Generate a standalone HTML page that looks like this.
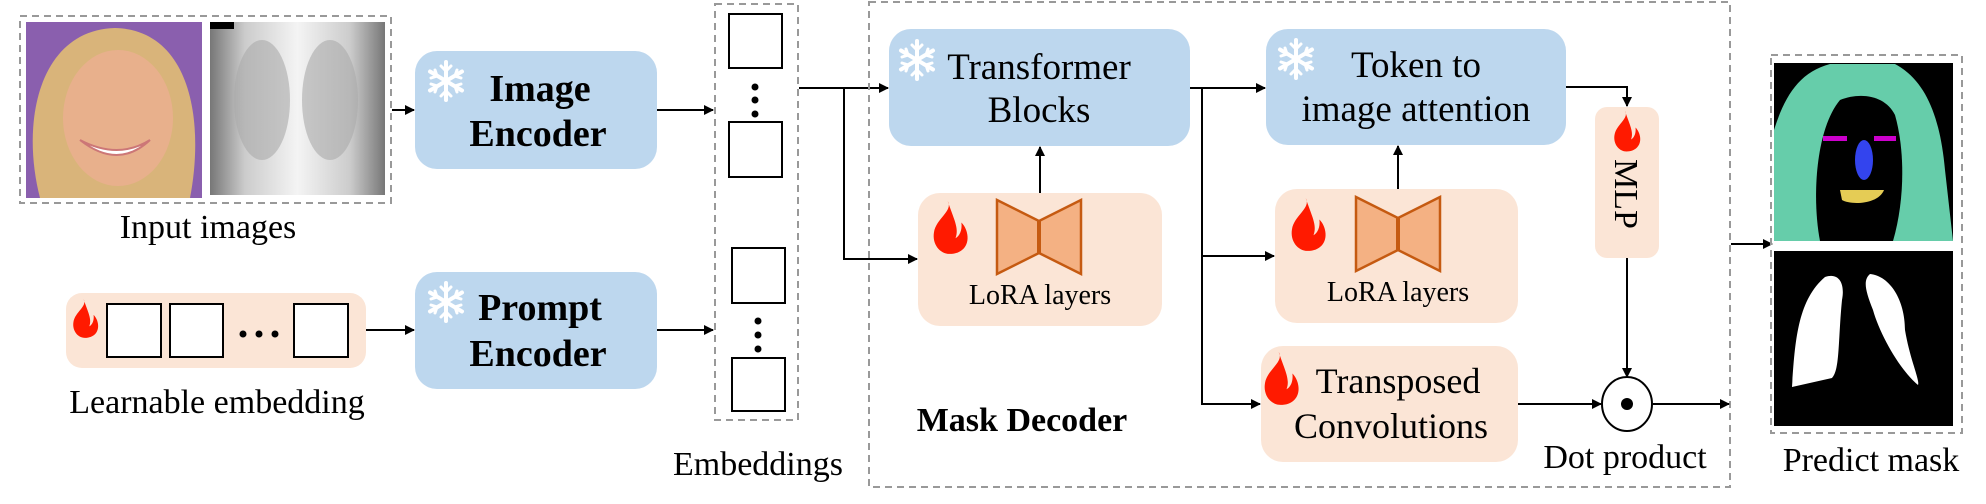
<!DOCTYPE html>
<html><head><meta charset="utf-8"><style>
html,body{margin:0;padding:0;background:#fff}
svg{display:block}
svg text{font-family:"Liberation Serif","Tinos","DejaVu Serif Condensed","DejaVu Serif",serif;fill:#000;font-weight:400}
svg text.b{font-weight:700}
</style></head><body>
<svg width="1986" height="504" viewBox="0 0 1986 504" xmlns="http://www.w3.org/2000/svg">
<defs>
<marker id="ar" markerWidth="10" markerHeight="10" refX="9" refY="5" orient="auto" markerUnits="userSpaceOnUse">
<path d="M0,0 L10,5 L0,10 z" fill="#000"/></marker>
<g id="flame"><path d="M16,0 C22,10 4,18 2,32 C0,44 8,54 18,54 C30,54 38,46 36,34 C35,28 32,24 30,22 C31,30 28,36 24,38 C28,28 22,18 16,0 z" fill="#ff1a00"/></g>
<g id="snow" stroke="#fff" stroke-width="4" stroke-linecap="round" fill="none">
<line x1="0" y1="-19" x2="0" y2="19"/><line x1="-16" y1="-9.5" x2="16" y2="9.5"/><line x1="-16" y1="9.5" x2="16" y2="-9.5"/>
<path d="M-5,-15 L0,-10 L5,-15 M-5,15 L0,10 L5,15 M-15,-3 L-9,-5 L-11,-11 M15,3 L9,5 L11,11 M-15,3 L-9,5 L-11,11 M15,-3 L9,-5 L11,-11" stroke-width="3"/>
</g>
<g id="bow"><path d="M0,0 L42,21 L42,53 L0,74 z M84,0 L42,21 L42,53 L84,74 z" fill="#f4b183" stroke="#c55a11" stroke-width="2.5" stroke-linejoin="miter"/><line x1="42" y1="21" x2="42" y2="53" stroke="#c55a11" stroke-width="4"/></g>
<linearGradient id="xr" x1="0" x2="1"><stop offset="0" stop-color="#777"/><stop offset="0.2" stop-color="#ccc"/><stop offset="0.5" stop-color="#f4f4f4"/><stop offset="0.8" stop-color="#ccc"/><stop offset="1" stop-color="#777"/></linearGradient>
</defs>

<rect x="20" y="16" width="371" height="187" fill="none" stroke="#999" stroke-width="2" stroke-dasharray="7,5"/>
<rect x="26" y="22" width="176" height="176" fill="#8a5fae"/>
<path d="M40,198 C20,120 40,30 115,28 C190,30 205,120 190,198 z" fill="#d9b47a"/>
<ellipse cx="118" cy="118" rx="55" ry="68" fill="#e8b08c"/>
<path d="M80,140 Q118,170 150,140 Q118,160 80,140 z" fill="#fff" stroke="#c77" stroke-width="2"/>
<rect x="210" y="22" width="175" height="173" fill="url(#xr)"/>
<ellipse cx="262" cy="100" rx="28" ry="60" fill="#aaa" opacity="0.6"/>
<ellipse cx="330" cy="100" rx="28" ry="60" fill="#aaa" opacity="0.6"/>
<rect x="210" y="22" width="24" height="7" fill="#000"/>
<text x="208" y="238" font-size="34" text-anchor="middle">Input images</text>

<line x1="392" y1="110" x2="414" y2="110" stroke="#000" stroke-width="2" marker-end="url(#ar)"/>
<rect x="415" y="51" width="242" height="118" rx="22" fill="#bdd7ee"/>
<use href="#snow" x="446" y="81"/>
<text class="b" x="540" y="101" font-size="38" text-anchor="middle">Image</text>
<text class="b" x="538" y="146" font-size="38" text-anchor="middle">Encoder</text>
<line x1="657" y1="110" x2="713" y2="110" stroke="#000" stroke-width="2" marker-end="url(#ar)"/>

<rect x="66" y="293" width="300" height="75" rx="16" fill="#fbe5d6"/>
<use href="#flame" transform="translate(72,299) scale(0.72)"/>
<rect x="107" y="304" width="54" height="53" fill="#fff" stroke="#000" stroke-width="2"/>
<rect x="170" y="304" width="53" height="53" fill="#fff" stroke="#000" stroke-width="2"/>
<rect x="294" y="304" width="54" height="53" fill="#fff" stroke="#000" stroke-width="2"/>
<circle cx="243" cy="334" r="3.5"/><circle cx="259" cy="334" r="3.5"/><circle cx="275" cy="334" r="3.5"/>
<text x="217" y="413" font-size="34" text-anchor="middle">Learnable embedding</text>
<line x1="366" y1="330" x2="414" y2="330" stroke="#000" stroke-width="2" marker-end="url(#ar)"/>

<rect x="415" y="272" width="242" height="117" rx="22" fill="#bdd7ee"/>
<use href="#snow" x="446" y="302"/>
<text class="b" x="540" y="320" font-size="38" text-anchor="middle">Prompt</text>
<text class="b" x="538" y="366" font-size="38" text-anchor="middle">Encoder</text>
<line x1="657" y1="330" x2="713" y2="330" stroke="#000" stroke-width="2" marker-end="url(#ar)"/>

<rect x="715" y="4" width="83" height="416" fill="none" stroke="#999" stroke-width="2" stroke-dasharray="7,5"/>
<rect x="729" y="14" width="53" height="54" fill="#fff" stroke="#000" stroke-width="2"/>
<rect x="729" y="122" width="53" height="55" fill="#fff" stroke="#000" stroke-width="2"/>
<circle cx="755" cy="87" r="3.5"/><circle cx="755" cy="100" r="3.5"/><circle cx="755" cy="114" r="3.5"/>
<rect x="732" y="248" width="53" height="55" fill="#fff" stroke="#000" stroke-width="2"/>
<rect x="732" y="358" width="53" height="53" fill="#fff" stroke="#000" stroke-width="2"/>
<circle cx="758" cy="321" r="3.5"/><circle cx="758" cy="335" r="3.5"/><circle cx="758" cy="349" r="3.5"/>
<text x="758" y="475" font-size="34" text-anchor="middle">Embeddings</text>

<polyline points="799,88 888,88" fill="none" stroke="#000" stroke-width="2" marker-end="url(#ar)"/>
<polyline points="844,88 844,259 917,259" fill="none" stroke="#000" stroke-width="2" marker-end="url(#ar)"/>

<rect x="869" y="2" width="861" height="485" fill="none" stroke="#999" stroke-width="2" stroke-dasharray="7,5"/>
<rect x="889" y="29" width="301" height="117" rx="22" fill="#bdd7ee"/>
<use href="#snow" x="917" y="60"/>
<text x="1039" y="79" font-size="37" text-anchor="middle">Transformer</text>
<text x="1039" y="122" font-size="37" text-anchor="middle">Blocks</text>

<rect x="918" y="193" width="244" height="133" rx="22" fill="#fbe5d6"/>
<use href="#flame" transform="translate(932,201) scale(0.98)"/>
<use href="#bow" x="997" y="200"/>
<text x="1040" y="304" font-size="28" text-anchor="middle">LoRA layers</text>
<line x1="1040" y1="193" x2="1040" y2="147" stroke="#000" stroke-width="2" marker-end="url(#ar)"/>

<polyline points="1190,88 1265,88" fill="none" stroke="#000" stroke-width="2" marker-end="url(#ar)"/>
<polyline points="1202,88 1202,404 1260,404" fill="none" stroke="#000" stroke-width="2" marker-end="url(#ar)"/>
<line x1="1202" y1="256" x2="1274" y2="256" stroke="#000" stroke-width="2" marker-end="url(#ar)"/>

<rect x="1266" y="29" width="300" height="116" rx="22" fill="#bdd7ee"/>
<use href="#snow" x="1296" y="59"/>
<text x="1416" y="77" font-size="37" text-anchor="middle">Token to</text>
<text x="1416" y="121" font-size="37" text-anchor="middle">image attention</text>

<rect x="1275" y="189" width="243" height="134" rx="22" fill="#fbe5d6"/>
<use href="#flame" transform="translate(1290,198) scale(0.98)"/>
<use href="#bow" x="1356" y="197"/>
<text x="1398" y="301" font-size="28" text-anchor="middle">LoRA layers</text>
<line x1="1398" y1="189" x2="1398" y2="146" stroke="#000" stroke-width="2" marker-end="url(#ar)"/>

<rect x="1261" y="346" width="257" height="116" rx="22" fill="#fbe5d6"/>
<use href="#flame" transform="translate(1263,352) scale(0.98)"/>
<text x="1398" y="393" font-size="36" text-anchor="middle">Transposed</text>
<text x="1391" y="438" font-size="36" text-anchor="middle">Convolutions</text>

<polyline points="1566,87 1627,87 1627,106" fill="none" stroke="#000" stroke-width="2" marker-end="url(#ar)"/>
<rect x="1595" y="107" width="64" height="151" rx="12" fill="#fbe5d6"/>
<use href="#flame" transform="translate(1613,111) scale(0.75)"/>
<text x="0" y="0" font-size="34" text-anchor="middle" transform="translate(1615,194) rotate(90)">MLP</text>
<line x1="1627" y1="258" x2="1627" y2="377" stroke="#000" stroke-width="2" marker-end="url(#ar)"/>
<ellipse cx="1627" cy="404" rx="25" ry="27" fill="#fff" stroke="#000" stroke-width="2"/>
<circle cx="1627" cy="404" r="6"/>
<line x1="1518" y1="404" x2="1601" y2="404" stroke="#000" stroke-width="2" marker-end="url(#ar)"/>
<line x1="1653" y1="404" x2="1729" y2="404" stroke="#000" stroke-width="2" marker-end="url(#ar)"/>
<text x="1625" y="468" font-size="34" text-anchor="middle">Dot product</text>
<text class="b" x="1022" y="431" font-size="34" text-anchor="middle">Mask Decoder</text>

<line x1="1731" y1="244" x2="1772" y2="244" stroke="#000" stroke-width="2" marker-end="url(#ar)"/>
<rect x="1771" y="55" width="191" height="378" fill="none" stroke="#999" stroke-width="2" stroke-dasharray="7,5"/>
<rect x="1774" y="63" width="179" height="178" fill="#000"/>
<path d="M1774,241 L1774,130 C1785,95 1800,72 1830,64 L1895,64 C1925,80 1940,115 1945,170 L1953,241 Z" fill="#66cdaa"/>
<path d="M1820,241 C1812,200 1815,130 1840,100 C1860,92 1885,95 1895,115 C1905,150 1905,200 1893,241 z" fill="#000"/>
<ellipse cx="1864" cy="160" rx="9" ry="20" fill="#3344ee"/>
<rect x="1823" y="136" width="24" height="5" fill="#c0c"/><rect x="1874" y="136" width="22" height="5" fill="#c0c"/>
<path d="M1840,190 L1884,190 C1878,205 1850,205 1842,200 z" fill="#e5cc55"/>
<rect x="1774" y="251" width="179" height="175" fill="#000"/>
<path d="M1825,277 C1840,272 1845,285 1842,300 C1838,340 1840,370 1832,378 L1792,387 C1795,340 1798,300 1825,277 z" fill="#fff"/>
<path d="M1870,274 C1890,276 1905,300 1905,330 C1910,360 1920,380 1918,385 C1900,370 1880,335 1873,310 C1865,290 1863,280 1870,274 z" fill="#fff"/>
<text x="1871" y="471" font-size="34" text-anchor="middle">Predict mask</text>
</svg>
</body></html>
